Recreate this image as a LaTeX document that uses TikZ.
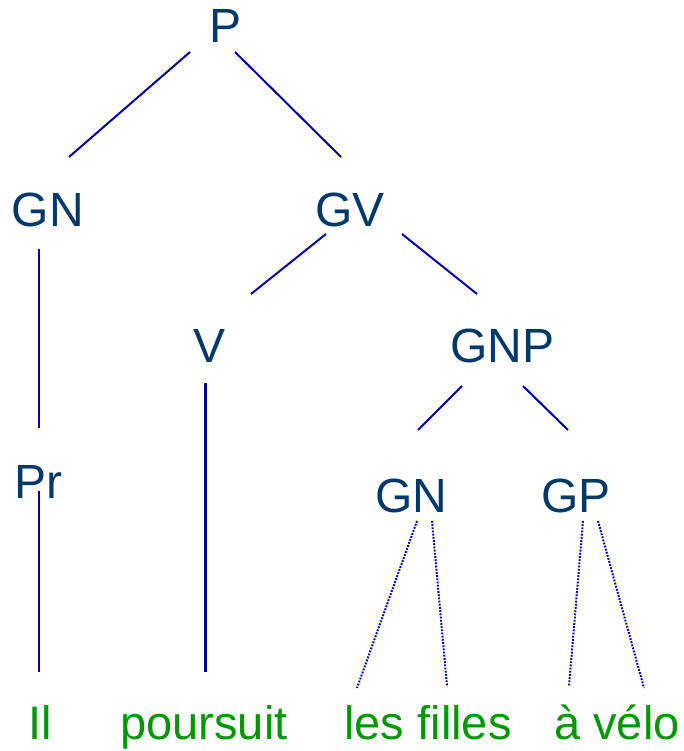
\documentclass[tikz,border=0pt]{standalone}
\usepackage{fontspec}
\setmainfont{Liberation Sans}
\definecolor{catblue}{RGB}{0,56,104}
\definecolor{edgeblue}{RGB}{0,0,150}
\definecolor{wordgreen}{RGB}{0,150,0}
\begin{document}
\begin{tikzpicture}[x=1pt,y=-1pt,
  cat/.style={anchor=base,inner sep=0pt,text=catblue,font=\fontsize{48}{48}\selectfont},
  word/.style={anchor=base,inner sep=0pt,text=wordgreen,font=\fontsize{47}{47}\selectfont},
  edge/.style={draw=edgeblue,line width=2pt},
  thickedge/.style={draw=edgeblue,line width=3pt},
  dotedge/.style={draw=edgeblue,line width=2pt,dash pattern=on 1.8pt off 1.4pt}]
\useasboundingbox (0,0) rectangle (683,751);

% category labels
\node[cat] (P)   at (226,43)  {P};
\node[cat] (GN)  at (48,226)  {GN};
\node[cat] (GV)  at (350,226) {GV};
\node[cat] (V)   at (210,362) {V};
\node[cat] (GNP) at (502,362) {GNP};
\node[cat] (Pr)  at (38,498)  {Pr};
\node[cat] (GNb) at (411,512) {GN};
\node[cat] (GP)  at (576,512) {GP};

% words
\node[word] (il)     at (40,739)  {Il};
\node[word] (pours)  at (204,739) {poursuit};
\node[word] (filles) at (428,739) {les filles};
\node[word] (velo)   at (617,739) {à vélo};

% branch end points
\coordinate (P-l)   at (190,52);  \coordinate (GN-t)  at (69,157);
\coordinate (P-r)   at (235,52);  \coordinate (GV-t)  at (341,157);
\coordinate (GN-b)  at (39,249);  \coordinate (Pr-t)  at (39,428);
\coordinate (Pr-b)  at (39,491);  \coordinate (il-t)  at (39,672);
\coordinate (GV-l)  at (326,234); \coordinate (V-t)   at (251,294);
\coordinate (GV-r)  at (402,234); \coordinate (GNP-t) at (477,294);
\coordinate (V-b)   at (205,383); \coordinate (pours-t) at (205,672);
\coordinate (GNP-l) at (462,386); \coordinate (GNb-t) at (418,430);
\coordinate (GNP-r) at (523,386); \coordinate (GP-t)  at (568,430);
\coordinate (GNb-l) at (417,521); \coordinate (les-t) at (357,688);
\coordinate (GNb-r) at (432,521); \coordinate (fil-t) at (447,686);
\coordinate (GP-l)  at (583,521); \coordinate (a-t)   at (569,686);
\coordinate (GP-r)  at (598,521); \coordinate (vel-t) at (644,688);

% branches
\draw[edge] (P-l) -- (GN-t);
\draw[edge] (P-r) -- (GV-t);
\draw[edge] (GN-b) -- (Pr-t);
\draw[edge] (Pr-b) -- (il-t);
\draw[edge] (GV-l) -- (V-t);
\draw[edge] (GV-r) -- (GNP-t);
\draw[thickedge] (V-b) -- (pours-t);
\draw[edge] (GNP-l) -- (GNb-t);
\draw[edge] (GNP-r) -- (GP-t);
\draw[dotedge] (GNb-l) -- (les-t);
\draw[dotedge] (GNb-r) -- (fil-t);
\draw[dotedge] (GP-l) -- (a-t);
\draw[dotedge] (GP-r) -- (vel-t);
\end{tikzpicture}
\end{document}
